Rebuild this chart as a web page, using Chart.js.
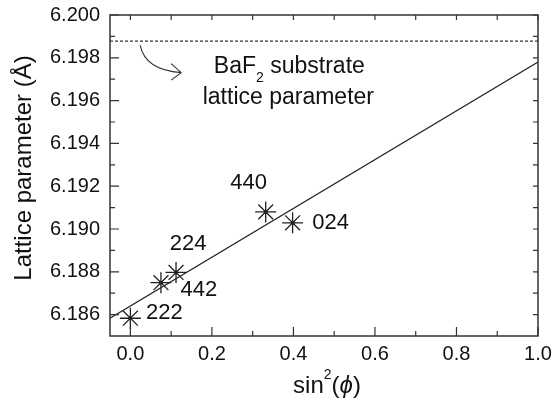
<!DOCTYPE html>
<html>
<head>
<meta charset="utf-8">
<script src="https://cdn.jsdelivr.net/npm/chart.js@4.4.0/dist/chart.umd.min.js"></script>
<style>
  html, body { margin: 0; padding: 0; background: #fff; }
</style>
</head>
<body>
<canvas id="chart" width="554" height="403"></canvas>
<script>
// data
const reflections = ['222', '442', '224', '440', '024'];
const sinSqPhi = [0.0, 0.075, 0.112, 0.332, 0.398];
const latticeParam = [6.18583, 6.18749, 6.18797, 6.19080, 6.19029];

// linear fit, end points at the plot edges
const fitX = [-0.05, 1.0];
const fitY = [6.18583, 6.1978];

// BaF2 substrate value (dashed line)
const substrateParam = 6.19878;

const xTicks = [0.0, 0.2, 0.4, 0.6, 0.8, 1.0];
const xMinor = [0.1, 0.3, 0.5, 0.7, 0.9];
const yTicks = [6.186, 6.188, 6.190, 6.192, 6.194, 6.196, 6.198, 6.200];
const yMinor = [6.187, 6.189, 6.191, 6.193, 6.195, 6.197, 6.199];

const FONT = 'Liberation Sans, Arial, Helvetica, sans-serif';
const INK = '#111';

// where each reflection label sits relative to its point (px)
const labelOffset = {
  '222': [34, -5],
  '442': [38, 7],
  '224': [12, -29],
  '440': [-17, -29],
  '024': [38, 0]
};

// frame, inward ticks, titles and annotations
const decorations = {
  id: 'decorations',
  afterDraw(chart) {
    const { ctx, chartArea: a, scales: { x, y } } = chart;
    ctx.save();

    ctx.strokeStyle = '#333';
    ctx.lineWidth = 1.5;
    ctx.strokeRect(a.left, a.top, a.right - a.left, a.bottom - a.top);

    ctx.lineWidth = 1.2;
    ctx.beginPath();
    xTicks.forEach(v => {
      const px = x.getPixelForValue(v);
      ctx.moveTo(px, a.bottom); ctx.lineTo(px, a.bottom - 9);
      ctx.moveTo(px, a.top); ctx.lineTo(px, a.top + 5);
    });
    xMinor.forEach(v => {
      const px = x.getPixelForValue(v);
      ctx.moveTo(px, a.bottom); ctx.lineTo(px, a.bottom - 5);
      ctx.moveTo(px, a.top); ctx.lineTo(px, a.top + 5);
    });
    yTicks.forEach(v => {
      const py = y.getPixelForValue(v);
      ctx.moveTo(a.left, py); ctx.lineTo(a.left + 9, py);
      ctx.moveTo(a.right, py); ctx.lineTo(a.right - 5, py);
    });
    yMinor.forEach(v => {
      const py = y.getPixelForValue(v);
      ctx.moveTo(a.left, py); ctx.lineTo(a.left + 5, py);
      ctx.moveTo(a.right, py); ctx.lineTo(a.right - 5, py);
    });
    ctx.stroke();

    ctx.fillStyle = INK;

    // reflection labels
    ctx.font = '22px ' + FONT;
    ctx.textAlign = 'center';
    ctx.textBaseline = 'middle';
    reflections.forEach((r, i) => {
      const off = labelOffset[r];
      ctx.fillText(r, x.getPixelForValue(sinSqPhi[i]) + off[0], y.getPixelForValue(latticeParam[i]) + off[1]);
    });

    // substrate annotation
    const ys = y.getPixelForValue(substrateParam);
    const cx = x.getPixelForValue(0.39);
    ctx.textBaseline = 'alphabetic';
    ctx.textAlign = 'left';
    ctx.font = '23px ' + FONT;
    const w1 = ctx.measureText('BaF').width;
    const w3 = ctx.measureText(' substrate').width;
    ctx.font = '14px ' + FONT;
    const w2 = ctx.measureText('2').width;
    let sx = cx - (w1 + w2 + w3) / 2;
    ctx.font = '23px ' + FONT;
    ctx.fillText('BaF', sx, ys + 32);
    ctx.font = '14px ' + FONT;
    ctx.fillText('2', sx + w1, ys + 41);
    ctx.font = '23px ' + FONT;
    ctx.fillText(' substrate', sx + w1 + w2, ys + 32);
    ctx.textAlign = 'center';
    ctx.fillText('lattice parameter', cx - 1, ys + 63);

    // curved arrow from the dashed line to the text
    const ax = x.getPixelForValue(0.024);
    ctx.strokeStyle = '#333';
    ctx.lineWidth = 1.1;
    ctx.beginPath();
    ctx.moveTo(ax, ys + 4);
    ctx.quadraticCurveTo(ax + 5, ys + 29, ax + 41, ys + 31.5);
    ctx.moveTo(ax + 31, ys + 22.5);
    ctx.lineTo(ax + 41, ys + 31.5);
    ctx.lineTo(ax + 31, ys + 39);
    ctx.stroke();

    // y axis title
    ctx.save();
    ctx.translate(31, 168);
    ctx.rotate(-Math.PI / 2);
    ctx.font = '24px ' + FONT;
    ctx.textAlign = 'center';
    ctx.textBaseline = 'alphabetic';
    ctx.fillText('Lattice parameter (Å)', 0, 0);
    ctx.restore();

    // x axis title: sin²(ϕ)
    const parts = [
      { t: 'sin', f: '24px ' + FONT, dy: 0 },
      { t: '2', f: '14px ' + FONT, dy: -14.5 },
      { t: '(', f: '24px ' + FONT, dy: 0 },
      { t: 'ϕ', f: 'italic 24px ' + FONT, dy: 0 },
      { t: ')', f: '24px ' + FONT, dy: 0 }
    ];
    ctx.textAlign = 'left';
    let total = 0;
    parts.forEach(p => { ctx.font = p.f; p.w = ctx.measureText(p.t).width; total += p.w; });
    let tx = (a.left + a.right) / 2 + 3 - total / 2;
    const baseY = a.bottom + 57;
    parts.forEach(p => {
      ctx.font = p.f;
      ctx.fillText(p.t, tx, baseY + p.dy);
      tx += p.w;
    });

    ctx.restore();
  }
};

const points = sinSqPhi.map((v, i) => ({ x: v, y: latticeParam[i] }));

new Chart(document.getElementById('chart'), {
  type: 'scatter',
  data: {
    datasets: [
      {
        type: 'line',
        data: fitX.map((v, i) => ({ x: v, y: fitY[i] })),
        borderColor: '#222',
        borderWidth: 1.2,
        pointRadius: 0,
        fill: false
      },
      {
        type: 'line',
        data: fitX.map(v => ({ x: v, y: substrateParam })),
        borderColor: '#333',
        borderWidth: 1.2,
        borderDash: [3, 2],
        pointRadius: 0,
        fill: false
      },
      {
        data: points,
        pointStyle: 'star',
        pointRadius: 10.5,
        borderColor: '#222',
        borderWidth: 1.3,
        backgroundColor: 'transparent'
      },
      {
        data: points,
        pointStyle: 'circle',
        pointRadius: 2,
        borderWidth: 0,
        backgroundColor: '#222'
      }
    ]
  },
  options: {
    responsive: false,
    animation: false,
    layout: { padding: { top: 15, right: 16, left: 0, bottom: 0 } },
    plugins: { legend: { display: false }, tooltip: { enabled: false } },
    scales: {
      x: {
        type: 'linear',
        min: -0.05,
        max: 1.0,
        grid: { display: false, drawTicks: false },
        border: { display: false },
        afterBuildTicks: s => { s.ticks = xTicks.map(v => ({ value: v })); },
        afterFit: s => {
          s.height = 67;
          s.paddingLeft = 0; s.paddingRight = 0;
        },
        ticks: {
          padding: 6,
          autoSkip: false,
          maxRotation: 0,
          color: INK,
          font: { family: FONT, size: 20 },
          callback: v => v.toFixed(1)
        }
      },
      y: {
        type: 'linear',
        min: 6.185,
        max: 6.200,
        grid: { display: false, drawTicks: false },
        border: { display: false },
        afterBuildTicks: s => { s.ticks = yTicks.map(v => ({ value: v })); },
        afterFit: s => {
          s.width = 110;
          s.paddingTop = 0; s.paddingBottom = 0;
        },
        ticks: {
          padding: 10,
          autoSkip: false,
          color: INK,
          font: { family: FONT, size: 20 },
          callback: v => v.toFixed(3)
        }
      }
    }
  },
  plugins: [decorations]
});
</script>
</body>
</html>
